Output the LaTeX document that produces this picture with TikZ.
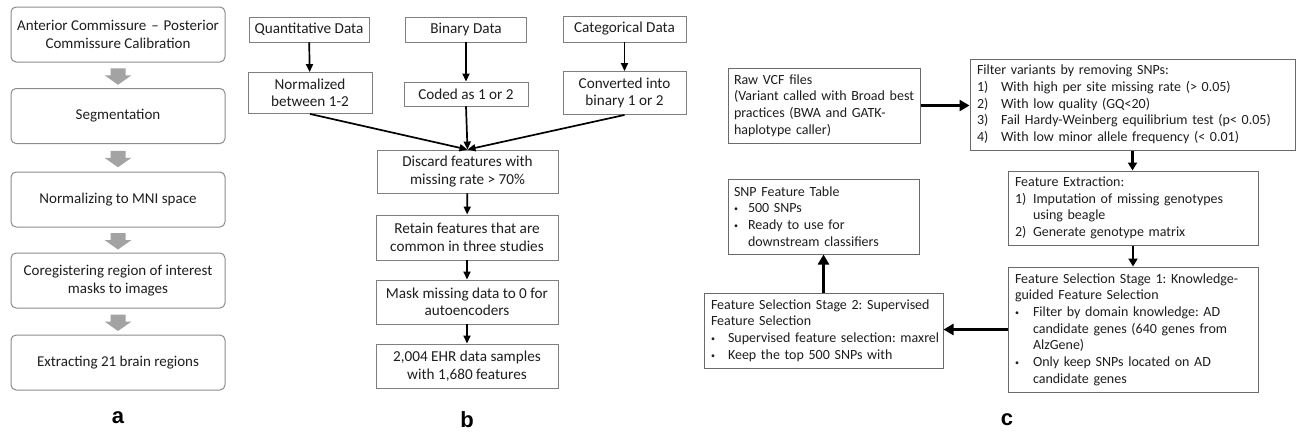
\documentclass[tikz,border=0pt]{standalone}
\usepackage{fontspec}
\setmainfont{Carlito}
\newfontfamily\labelfont{Liberation Sans}
\usetikzlibrary{arrows.meta,calc}
\definecolor{txt}{HTML}{1E1E1E}
\definecolor{bordA}{HTML}{8C8C8C}
\definecolor{bordB}{HTML}{7F7F7F}
\definecolor{bordC}{HTML}{6A6A6A}
\definecolor{garrow}{HTML}{A3A3A3}
\newcommand\lbl[2]{\makebox[#1][l]{#2}}
\newcommand\bul{\raisebox{1.2pt}{\fontsize{8}{8}\selectfont\textbullet}}
\begin{document}
\frenchspacing
\begin{tikzpicture}[x=1pt,y=-1pt,
  abox/.style={draw=bordA, line width=1pt, rounded corners=5pt, minimum width=214pt, minimum height=55pt, inner sep=0pt, align=center, text=txt, font=\fontsize{15}{17.5}\selectfont},
  bbox/.style={draw=bordB, line width=0.9pt, inner sep=0pt, align=center, text=txt, font=\fontsize{15.2}{17.5}\selectfont},
  cbox/.style={draw=bordC, line width=1pt, inner xsep=6pt, inner ysep=0pt, align=left, text=txt, font=\fontsize{14}{16.7}\selectfont},
  barrow/.style={-{Triangle[length=8pt,width=7pt]}, line width=1.7pt, black},
  carrow/.style={-{Triangle[length=10pt,width=11pt]}, line width=3.2pt, black},
  carrowm/.style={-{Triangle[length=8pt,width=9pt]}, line width=2.4pt, black},
  plabel/.style={font=\labelfont\bfseries\fontsize{22}{22}\selectfont, text=black},
  garr/.pic={\fill[garrow] (-7.5,-7) -- (7.5,-7) -- (7.5,0) -- (13.5,0) -- (0,9.5) -- (-13.5,0) -- (-7.5,0) -- cycle;}
]
\useasboundingbox (0,0) rectangle (1298,437);
\fill[white] (0,0) rectangle (1298,437);

% ---------- panel a ----------
\node[abox] (a1) at (118,34.5) {Anterior Commissure\hspace{1.5pt} -- \hspace{1.5pt}Posterior\\Commissure Calibration};
\node[abox] (a2) at (118,116) {Segmentation};
\node[abox] (a3) at (118,199.5) {Normalizing to MNI space};
\node[abox] (a4) at (118,280.5) {Coregistering region of interest\\masks to images};
\node[abox] (a5) at (118,362.5) {Extracting 21 brain regions};
\foreach \u/\v in {a1/a2,a2/a3,a3/a4,a4/a5}{
  \path ($(\u.south)!0.5!(\v.north)$) pic {garr};
}
\node[plabel] (la) at (118,418) {a};

% ---------- panel b ----------
\node[bbox, minimum width=120pt, minimum height=25pt] (bq) at (309,29.5) {Quantitative Data};
\node[bbox, minimum width=121pt, minimum height=25pt] (bb) at (466,29.5) {Binary Data};
\node[bbox, minimum width=123pt, minimum height=26pt] (bc) at (624.5,29) {Categorical Data};
\node[bbox, minimum width=124pt, minimum height=41pt] (bn) at (310,93) {Normalized\\between 1-2};
\node[bbox, minimum width=124pt, minimum height=24pt] (bcd) at (466,94) {Coded as 1 or 2};
\node[bbox, minimum width=123pt, minimum height=43pt] (bcv) at (624.5,93) {Converted into\\binary 1 or 2};
\node[bbox, minimum width=181pt, minimum height=43pt] (bd) at (467.5,171.5) {Discard features with\\missing rate > 70\%};
\node[bbox, minimum width=182pt, minimum height=45pt] (br) at (467,237.5) {Retain features that are\\common in three studies};
\node[bbox, minimum width=182pt, minimum height=44pt] (bm) at (467,302) {Mask missing data to 0 for\\autoencoders};
\node[bbox, minimum width=182pt, minimum height=44pt] (be) at (467,366) {2,004 EHR data samples\\with 1,680 features};
\draw[barrow] (bq) -- (bn);
\draw[barrow] (bb) -- (bcd);
\draw[barrow] (bc) -- (bcv);
\draw[barrow] (bn.south) -- (bd.north);
\draw[barrow] (bcd.south) -- (bd.north);
\draw[barrow] (bcv.south) -- (bd.north);
\draw[barrow] (bd) -- (br);
\draw[barrow] (br) -- (bm);
\draw[barrow] (bm) -- (be);
\node[plabel] (lb) at (467,420) {b};

% ---------- panel c ----------
\node[cbox, text width=180pt, minimum height=75pt] (raw) at (824,105.5)
  {Raw VCF files\\\mbox{(Variant called with Broad best}\\practices (BWA and GATK-\\haplotype caller)};
\node[cbox, inner xsep=7pt, text width=311pt, minimum height=91pt] (filt) at (1132.5,104.5)
  {Filter variants by removing SNPs:\\
   \mbox{\lbl{24pt}{1)}With high per site missing rate (> 0.05)}\\
   \mbox{\lbl{24pt}{2)}With low quality (GQ<20)}\\
   \mbox{\lbl{24pt}{3)}Fail Hardy-Weinberg equilibrium test (p< 0.05)}\\
   \mbox{\lbl{24pt}{4)}With low minor allele frequency (< 0.01)}};
\node[cbox, inner xsep=7pt, text width=236pt, minimum height=74pt] (fe) at (1133,208)
  {Feature Extraction:\\
   \mbox{\lbl{18pt}{1)}Imputation of missing genotypes}\\
   \hspace*{18pt}using beagle\\
   \mbox{\lbl{18pt}{2)}Generate genotype matrix}};
\node[cbox, inner xsep=7pt, text width=236pt, minimum height=125pt] (fs1) at (1133,329.5)
  {\mbox{Feature Selection Stage 1: Knowledge-}\\
   guided Feature Selection\\
   \mbox{\lbl{18pt}{\bul}Filter by domain knowledge: AD}\\
   \mbox{\hspace*{18pt}candidate genes (640 genes from}\\
   \hspace*{18pt}AlzGene)\\
   \mbox{\lbl{18pt}{\bul}Only keep SNPs located on AD}\\
   \hspace*{18pt}candidate genes};
\node[cbox, inner xsep=7pt, text width=225pt, minimum height=75pt] (fs2) at (823.5,330.5)
  {\mbox{Feature Selection Stage 2: Supervised}\\
   Feature Selection\\
   \mbox{\lbl{17pt}{\bul}Supervised feature selection: maxrel}\\
   \mbox{\lbl{17pt}{\bul}Keep the top 500 SNPs with}};
\node[cbox, text width=179pt, minimum height=75pt] (snp) at (823.5,216.5)
  {SNP Feature Table\\
   \mbox{\lbl{14pt}{\bul}500 SNPs}\\
   \mbox{\lbl{14pt}{\bul}Ready to use for}\\
   \hspace*{14pt}downstream classifiers};
\draw[carrow] (raw.east) -- (raw.east -| filt.west);
\draw[carrowm] (filt.south) -- (filt.south |- fe.north);
\draw[carrowm] (fe.south) -- (fe.south |- fs1.north);
\draw[carrow] (fs1.west) -- (fs1.west -| fs2.east);
\draw[carrow] (fs2.north) -- (fs2.north |- snp.south);
\node[plabel] (lc) at (1007,420) {c};
\end{tikzpicture}
\end{document}
